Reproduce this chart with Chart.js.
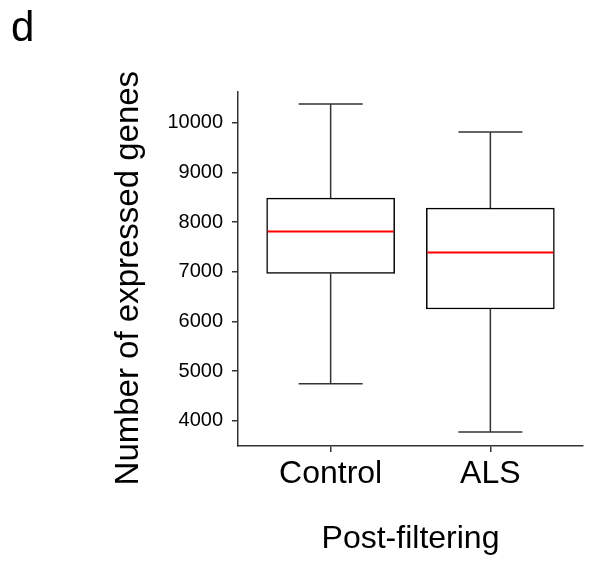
<!DOCTYPE html>
<html>
<head>
<meta charset="utf-8">
<script src="https://cdn.jsdelivr.net/npm/chart.js@4"></script>
<style>
  html, body { margin: 0; padding: 0; background: #fff; }
  #wrap { width: 606px; height: 573px; }
</style>
</head>
<body>
<div id="wrap"><canvas id="grafica" width="606" height="573"></canvas></div>
<script>
// valores
const categorias = ['Control', 'ALS'];
const bigoteBajo = [4746, 3770];
const q1 = [6964, 6250];
const mediana = [7810, 7387];
const q3 = [8482, 8280];
const bigoteAlto = [10377, 9812];
const ticksY = [4000, 5000, 6000, 7000, 8000, 9000, 10000];

const fuente = '"Liberation Sans", Arial, sans-serif';
const colorEje = '#333';

// bigotes y mediana dibujados con las escalas del grafico
const bigotes = {
  id: 'bigotes',
  afterDatasetsDraw(chart) {
    const { ctx, scales: { x, y } } = chart;
    const meta = chart.getDatasetMeta(0);
    ctx.save();
    categorias.forEach((c, i) => {
      const cx = x.getPixelForValue(i + 1);
      const mitad = meta.data[i].width / 2;
      const tapa = mitad / 2;
      ctx.strokeStyle = colorEje;
      ctx.lineWidth = 1.5;
      ctx.beginPath();
      ctx.moveTo(cx, y.getPixelForValue(q3[i]));
      ctx.lineTo(cx, y.getPixelForValue(bigoteAlto[i]));
      ctx.moveTo(cx - tapa, y.getPixelForValue(bigoteAlto[i]));
      ctx.lineTo(cx + tapa, y.getPixelForValue(bigoteAlto[i]));
      ctx.moveTo(cx, y.getPixelForValue(q1[i]));
      ctx.lineTo(cx, y.getPixelForValue(bigoteBajo[i]));
      ctx.moveTo(cx - tapa, y.getPixelForValue(bigoteBajo[i]));
      ctx.lineTo(cx + tapa, y.getPixelForValue(bigoteBajo[i]));
      ctx.stroke();
      ctx.strokeStyle = '#ff0000';
      ctx.lineWidth = 2;
      ctx.beginPath();
      ctx.moveTo(cx - mitad + 1, y.getPixelForValue(mediana[i]));
      ctx.lineTo(cx + mitad - 1, y.getPixelForValue(mediana[i]));
      ctx.stroke();
    });
    ctx.restore();
  }
};

const ctx = document.getElementById('grafica').getContext('2d');
const chart = new Chart(ctx, {
  type: 'bar',
  data: {
    datasets: [{
      data: categorias.map((c, i) => ({ x: i + 1, y: [q1[i], q3[i]] })),
      backgroundColor: '#ffffff',
      borderColor: '#000',
      borderWidth: 1.5,
      borderSkipped: false,
      barThickness: 128
    }]
  },
  options: {
    responsive: false,
    animation: false,
    layout: { padding: { left: 11, right: 23, top: 0, bottom: 0 } },
    plugins: {
      legend: { display: false },
      tooltip: { enabled: false },
      title: {
        display: true,
        text: 'd',
        align: 'start',
        color: '#000',
        font: { family: fuente, size: 42, weight: 'normal' },
        padding: { top: 4, bottom: 37.6 }
      }
    },
    scales: {
      x: {
        type: 'linear',
        min: 0.42,
        max: 2.58,
        offset: false,
        afterBuildTicks: (eje) => { eje.ticks = categorias.map((c, i) => ({ value: i + 1 })); },
        afterFit: (eje) => { eje.height = 127; },
        grid: { offset: false, drawOnChartArea: false, drawTicks: true, tickLength: 6, color: colorEje, lineWidth: 1.5 },
        border: { display: true, color: colorEje, width: 1.5 },
        ticks: {
          color: '#000',
          padding: 3,
          maxRotation: 0,
          font: { family: fuente, size: 32 },
          callback: (v) => categorias[v - 1]
        },
        title: {
          display: true,
          text: 'Post-filtering',
          color: '#000',
          font: { family: fuente, size: 32 },
          padding: { top: 0, bottom: 15 }
        }
      },
      y: {
        min: 3490,
        max: 10620,
        afterBuildTicks: (eje) => { eje.ticks = ticksY.map(v => ({ value: v })); },
        afterFit: (eje) => { eje.width = 227; },
        grid: { drawOnChartArea: false, drawTicks: true, tickLength: 6, color: colorEje, lineWidth: 1.5 },
        border: { display: true, color: colorEje, width: 1.5 },
        ticks: {
          color: '#000',
          padding: 9,
          font: { family: fuente, size: 20 },
          callback: (v) => String(v)
        },
        title: {
          display: true,
          text: 'Number of expressed genes  ',
          color: '#000',
          font: { family: fuente, size: 33 },
          padding: { top: 98, bottom: 0 }
        }
      }
    }
  },
  plugins: [bigotes]
});
</script>
</body>
</html>
